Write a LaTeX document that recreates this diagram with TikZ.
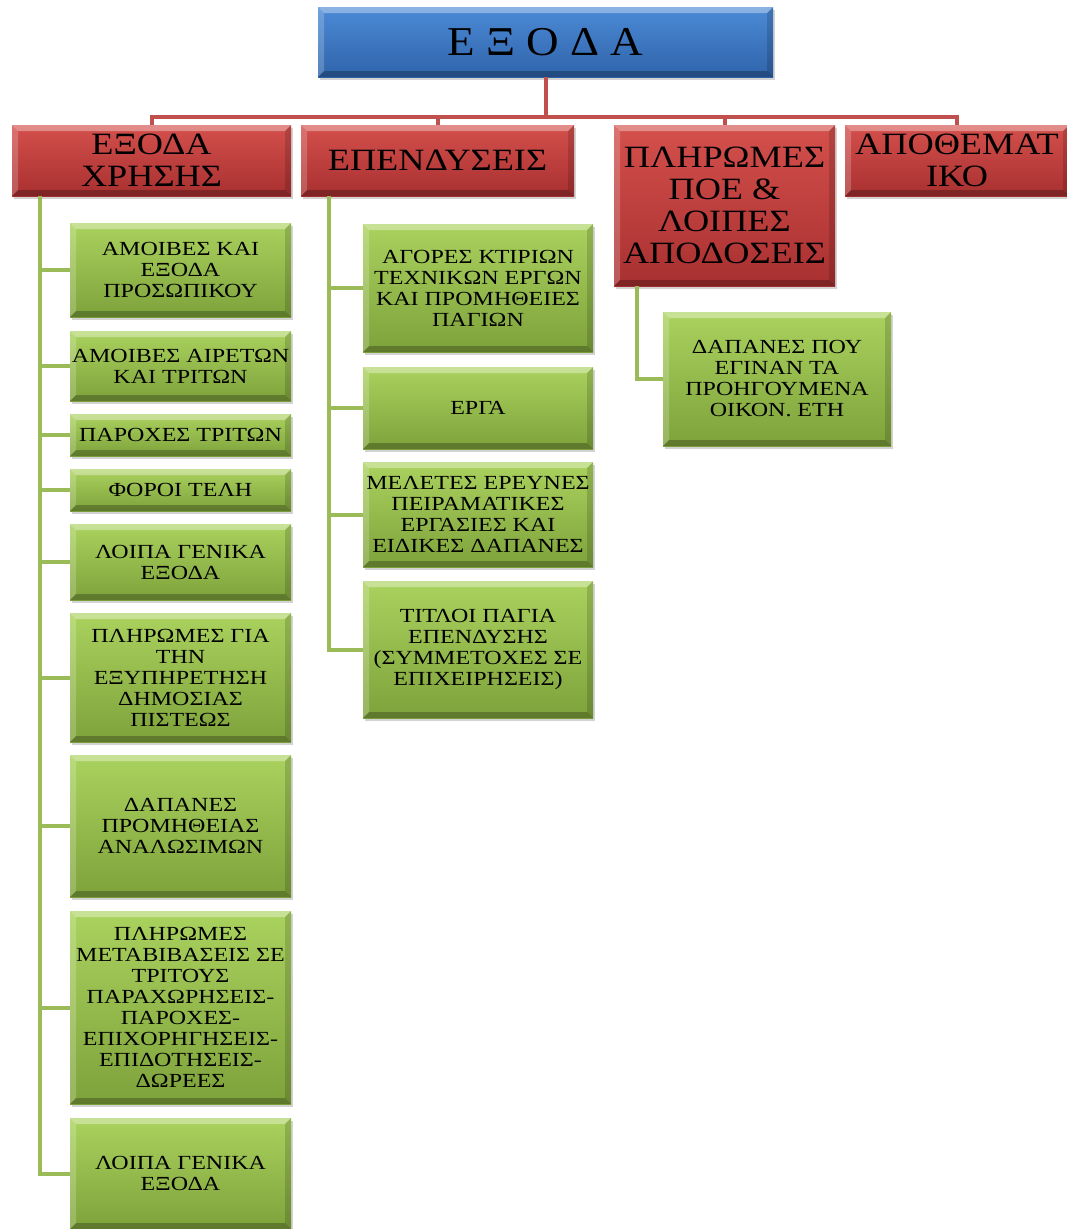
\documentclass[tikz,border=0pt]{standalone}
\usepackage{fontspec}
\setmainfont{Liberation Serif}
\newfontfamily\titlefont[FakeStretch=1.1]{Liberation Serif}
\newfontfamily\headfont[FakeStretch=1.17]{Liberation Serif}
\newfontfamily\leaffont[FakeStretch=1.2]{Liberation Serif}
\usepackage{tikz}
\usetikzlibrary{shadows}
\definecolor{blueTop}{HTML}{4C8AD6}
\definecolor{blueBot}{HTML}{2F64AA}
\definecolor{redTop}{HTML}{D4504C}
\definecolor{redBot}{HTML}{A83030}
\definecolor{greenTop}{HTML}{AAD25E}
\definecolor{greenBot}{HTML}{7EA23B}
\definecolor{redLine}{HTML}{C0504D}
\definecolor{greenLine}{HTML}{9BBB59}
\tikzstyle{bevel}=[path picture={
    \fill[white, opacity=0.35] (path picture bounding box.north west) -- (path picture bounding box.north east)
        -- ([shift={(-6pt,-6pt)}]path picture bounding box.north east) -- ([shift={(6pt,-6pt)}]path picture bounding box.north west) -- cycle;
    \fill[white, opacity=0.2] (path picture bounding box.north west) -- (path picture bounding box.south west)
        -- ([shift={(6pt,6pt)}]path picture bounding box.south west) -- ([shift={(6pt,-6pt)}]path picture bounding box.north west) -- cycle;
    \fill[black, opacity=0.25] (path picture bounding box.south west) -- (path picture bounding box.south east)
        -- ([shift={(-6pt,6pt)}]path picture bounding box.south east) -- ([shift={(6pt,6pt)}]path picture bounding box.south west) -- cycle;
    \fill[black, opacity=0.15] (path picture bounding box.north east) -- (path picture bounding box.south east)
        -- ([shift={(-6pt,6pt)}]path picture bounding box.south east) -- ([shift={(-6pt,-6pt)}]path picture bounding box.north east) -- cycle;
}]
\tikzstyle{box}=[shading=axis, inner xsep=0, inner ysep=2pt, outer sep=0, align=center, bevel,
                 drop shadow={shadow xshift=2pt, shadow yshift=-3pt, opacity=0.35}]
\tikzstyle{titlebox}=[box, top color=blueTop, bottom color=blueBot, font=\titlefont\fontsize{41}{44}\selectfont]
\tikzstyle{headbox}=[box, top color=redTop, bottom color=redBot, font=\headfont\fontsize{31}{32}\selectfont]
\tikzstyle{leafbox}=[box, top color=greenTop, bottom color=greenBot, font=\leaffont\fontsize{20}{21}\selectfont]
\tikzstyle{redline}=[draw=redLine, line width=4pt]
\tikzstyle{greenline}=[draw=greenLine, line width=4pt]
\begin{document}
\begin{tikzpicture}[x=1pt, y=-1pt]
    \useasboundingbox (0, 0) rectangle (1067, 1229);
    % Top and second level.
    \node[titlebox, minimum width=455, minimum height=70] (top) at (545.5, 42) {Ε Ξ Ο Δ Α};
    \node[headbox, minimum width=279, minimum height=71] (use) at (151.5, 160.5) {ΕΞΟΔΑ\\ΧΡΗΣΗΣ};
    \node[headbox, minimum width=273, minimum height=71] (inv) at (437.5, 160.5) {ΕΠΕΝΔΥΣΕΙΣ};
    \node[headbox, minimum width=221, minimum height=161] (poe) at (724.5, 205.5) {ΠΛΗΡΩΜΕΣ\\ΠΟΕ \&\\ΛΟΙΠΕΣ\\ΑΠΟΔΟΣΕΙΣ};
    \node[headbox, minimum width=224, minimum height=71] (res) at (957, 160.5) {ΑΠΟΘΕΜΑΤ\\ΙΚΟ};
    % Leaves under ΕΞΟΔΑ ΧΡΗΣΗΣ.
    \node[leafbox, minimum width=221, minimum height=94] (use1) at (180.5, 270) {ΑΜΟΙΒΕΣ ΚΑΙ\\ΕΞΟΔΑ\\ΠΡΟΣΩΠΙΚΟΥ};
    \node[leafbox, minimum width=221, minimum height=70] (use2) at (180.5, 366) {ΑΜΟΙΒΕΣ ΑΙΡΕΤΩΝ\\ΚΑΙ ΤΡΙΤΩΝ};
    \node[leafbox, minimum width=221, minimum height=42] (use3) at (180.5, 435) {ΠΑΡΟΧΕΣ ΤΡΙΤΩΝ};
    \node[leafbox, minimum width=221, minimum height=42] (use4) at (180.5, 490) {ΦΟΡΟΙ ΤΕΛΗ};
    \node[leafbox, minimum width=221, minimum height=76] (use5) at (180.5, 562) {ΛΟΙΠΑ ΓΕΝΙΚΑ\\ΕΞΟΔΑ};
    \node[leafbox, minimum width=221, minimum height=129] (use6) at (180.5, 677.5) {ΠΛΗΡΩΜΕΣ ΓΙΑ\\ΤΗΝ\\ΕΞΥΠΗΡΕΤΗΣΗ\\ΔΗΜΟΣΙΑΣ\\ΠΙΣΤΕΩΣ};
    \node[leafbox, minimum width=221, minimum height=142] (use7) at (180.5, 826) {ΔΑΠΑΝΕΣ\\ΠΡΟΜΗΘΕΙΑΣ\\ΑΝΑΛΩΣΙΜΩΝ};
    \node[leafbox, minimum width=221, minimum height=193] (use8) at (180.5, 1007.5) {ΠΛΗΡΩΜΕΣ\\ΜΕΤΑΒΙΒΑΣΕΙΣ ΣΕ\\ΤΡΙΤΟΥΣ\\ΠΑΡΑΧΩΡΗΣΕΙΣ-\\ΠΑΡΟΧΕΣ-\\ΕΠΙΧΟΡΗΓΗΣΕΙΣ-\\ΕΠΙΔΟΤΗΣΕΙΣ-\\ΔΩΡΕΕΣ};
    \node[leafbox, minimum width=221, minimum height=111] (use9) at (180.5, 1173.5) {ΛΟΙΠΑ ΓΕΝΙΚΑ\\ΕΞΟΔΑ};
    % Leaves under ΕΠΕΝΔΥΣΕΙΣ.
    \node[leafbox, minimum width=230, minimum height=128] (inv1) at (478, 288) {ΑΓΟΡΕΣ ΚΤΙΡΙΩΝ\\ΤΕΧΝΙΚΩΝ ΕΡΓΩΝ\\ΚΑΙ ΠΡΟΜΗΘΕΙΕΣ\\ΠΑΓΙΩΝ};
    \node[leafbox, minimum width=230, minimum height=82] (inv2) at (478, 408) {ΕΡΓΑ};
    \node[leafbox, minimum width=230, minimum height=105] (inv3) at (478, 514.5) {ΜΕΛΕΤΕΣ ΕΡΕΥΝΕΣ\\ΠΕΙΡΑΜΑΤΙΚΕΣ\\ΕΡΓΑΣΙΕΣ ΚΑΙ\\ΕΙΔΙΚΕΣ ΔΑΠΑΝΕΣ};
    \node[leafbox, minimum width=230, minimum height=137] (inv4) at (478, 649.5) {ΤΙΤΛΟΙ ΠΑΓΙΑ\\ΕΠΕΝΔΥΣΗΣ\\(ΣΥΜΜΕΤΟΧΕΣ ΣΕ\\ΕΠΙΧΕΙΡΗΣΕΙΣ)};
    % Leaf under ΠΛΗΡΩΜΕΣ ΠΟΕ.
    \node[leafbox, minimum width=228, minimum height=134] (poe1) at (777, 379) {ΔΑΠΑΝΕΣ ΠΟΥ\\ΕΓΙΝΑΝ ΤΑ\\ΠΡΟΗΓΟΥΜΕΝΑ\\ΟΙΚΟΝ. ΕΤΗ};
    % Red tree.
    \coordinate (bar) at (545.5, 117);
    \draw[redline] (top.south) -- (bar);
    \draw[redline] (bar) -| (use.north);
    \draw[redline] (bar) -| (inv.north);
    \draw[redline] (bar) -| (poe.north);
    \draw[redline] (bar) -| (res.north);
    % Green spines.
    \coordinate (usespine) at ([xshift=28pt]use.south west);
    \coordinate (invspine) at ([xshift=28pt]inv.south west);
    \coordinate (poespine) at ([xshift=23pt]poe.south west);
    \draw[greenline] (usespine) |- (use1.west);
    \draw[greenline] (usespine) |- (use2.west);
    \draw[greenline] (usespine) |- (use3.west);
    \draw[greenline] (usespine) |- (use4.west);
    \draw[greenline] (usespine) |- (use5.west);
    \draw[greenline] (usespine) |- (use6.west);
    \draw[greenline] (usespine) |- (use7.west);
    \draw[greenline] (usespine) |- (use8.west);
    \draw[greenline] (usespine) |- (use9.west);
    \draw[greenline] (invspine) |- (inv1.west);
    \draw[greenline] (invspine) |- (inv2.west);
    \draw[greenline] (invspine) |- (inv3.west);
    \draw[greenline] (invspine) |- (inv4.west);
    \draw[greenline] (poespine) |- (poe1.west);
\end{tikzpicture}
\end{document}
